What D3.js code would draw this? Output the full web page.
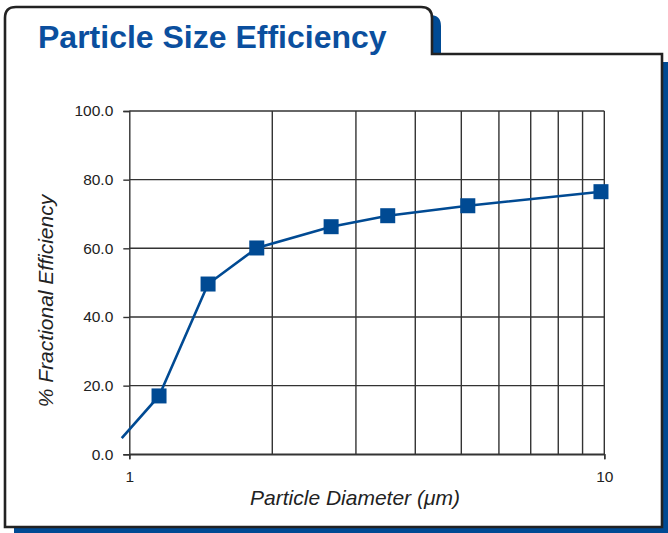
<!DOCTYPE html>
<html>
<head>
<meta charset="utf-8">
<script src="https://cdn.jsdelivr.net/npm/d3@7"></script>
<style>
  html, body { margin: 0; padding: 0; background: #ffffff; }
  svg { display: block; }
</style>
</head>
<body>
<svg id="chart" width="668" height="533"></svg>
<script>
// ---- data ----
const chartTitle = "Particle Size Efficiency";
const xAxisTitle = "Particle Diameter (\u03bcm)";
const yAxisTitle = "% Fractional Efficiency";
const diameters  = [0.964, 1.155, 1.465, 1.855, 2.66, 3.50, 5.16, 9.84];
const efficiency = [4.7, 17.0, 49.6, 60.1, 66.3, 69.5, 72.4, 76.5];
const showMarker = [false, true, true, true, true, true, true, true];
const yTicks = [0, 20, 40, 60, 80, 100];
const xLabelTicks = [1, 10];
const xGridTicks = [2, 3, 4, 5, 6, 7, 8, 9, 10];

const points = diameters.map((d, i) => ({ x: d, y: efficiency[i], m: showMarker[i] }));

const svg = d3.select("#chart");
const BLUE = "#004a93";
const INK = "#222222";

// ---- folder-tab frame with blue shadow ----
function framePath(dx, dy) {
  const L = 5 + dx, T = 7 + dy, TR = 432 + dx, S = 54 + dy, R = 662 + dx, B = 527 + dy, r = 11;
  return `M${L},${B} V${T + r} Q${L},${T} ${L + r},${T} H${TR - r} Q${TR},${T} ${TR},${T + r} V${S} H${R} V${B} Z`;
}
svg.append("path").attr("d", framePath(9, 8)).attr("fill", BLUE);
svg.append("path").attr("d", framePath(0, 0)).attr("fill", "#fff")
  .attr("stroke", INK).attr("stroke-width", 2.6).attr("stroke-linejoin", "miter");

svg.append("text")
  .attr("x", 38).attr("y", 48)
  .attr("font-family", "Liberation Sans, Arial, sans-serif")
  .attr("font-weight", "bold").attr("font-size", 32)
  .attr("fill", "#0b4f9e")
  .text(chartTitle);

// ---- scales ----
const x = d3.scaleLog().domain([1, 10]).range([129.3, 604.3]);
const y = d3.scaleLinear().domain([0, 100]).range([454.3, 111]);

const g = svg.append("g");

// grid
g.append("g").selectAll("line").data(yTicks).join("line")
  .attr("x1", x(1)).attr("x2", x(10))
  .attr("y1", d => y(d)).attr("y2", d => y(d))
  .attr("stroke", "#333").attr("stroke-width", 1.4);
g.append("g").selectAll("line").data(xGridTicks).join("line")
  .attr("x1", d => x(d)).attr("x2", d => x(d))
  .attr("y1", y(0)).attr("y2", y(100))
  .attr("stroke", "#333").attr("stroke-width", 1.4);

// axes
const yAxis = g.append("g").attr("transform", `translate(${x(1)},0)`)
  .call(d3.axisLeft(y).tickValues(yTicks).tickFormat(d3.format(".1f")).tickSize(6).tickPadding(10));
const xAxis = g.append("g").attr("transform", `translate(0,${y(0)})`)
  .call(d3.axisBottom(x).tickValues(xLabelTicks).tickFormat(d3.format("d")).tickSize(5).tickPadding(12));
[yAxis, xAxis].forEach(a => {
  a.select(".domain").attr("stroke", "#333").attr("stroke-width", 1.4);
  a.selectAll(".tick line").attr("stroke", "#333").attr("stroke-width", 1.4);
  a.selectAll(".tick text").attr("fill", INK)
    .attr("font-family", "Liberation Sans, Arial, sans-serif").attr("font-size", 15.5);
});

// series
g.append("path").datum(points)
  .attr("fill", "none").attr("stroke", BLUE).attr("stroke-width", 2.6)
  .attr("d", d3.line().x(d => x(d.x)).y(d => y(d.y)));

const ms = 15;
g.append("g").selectAll("rect").data(points.filter(d => d.m)).join("rect")
  .attr("x", d => x(d.x) - ms / 2).attr("y", d => y(d.y) - ms / 2)
  .attr("width", ms).attr("height", ms).attr("fill", BLUE);

// axis titles
svg.append("text")
  .attr("x", 355).attr("y", 505).attr("text-anchor", "middle")
  .attr("font-family", "Liberation Sans, Arial, sans-serif")
  .attr("font-style", "italic").attr("font-size", 21).attr("fill", INK)
  .text(xAxisTitle);
svg.append("text")
  .attr("transform", "translate(53,301) rotate(-90)").attr("text-anchor", "middle")
  .attr("font-family", "Liberation Sans, Arial, sans-serif")
  .attr("font-style", "italic").attr("font-size", 21).attr("fill", INK)
  .text(yAxisTitle);
</script>
</body>
</html>
